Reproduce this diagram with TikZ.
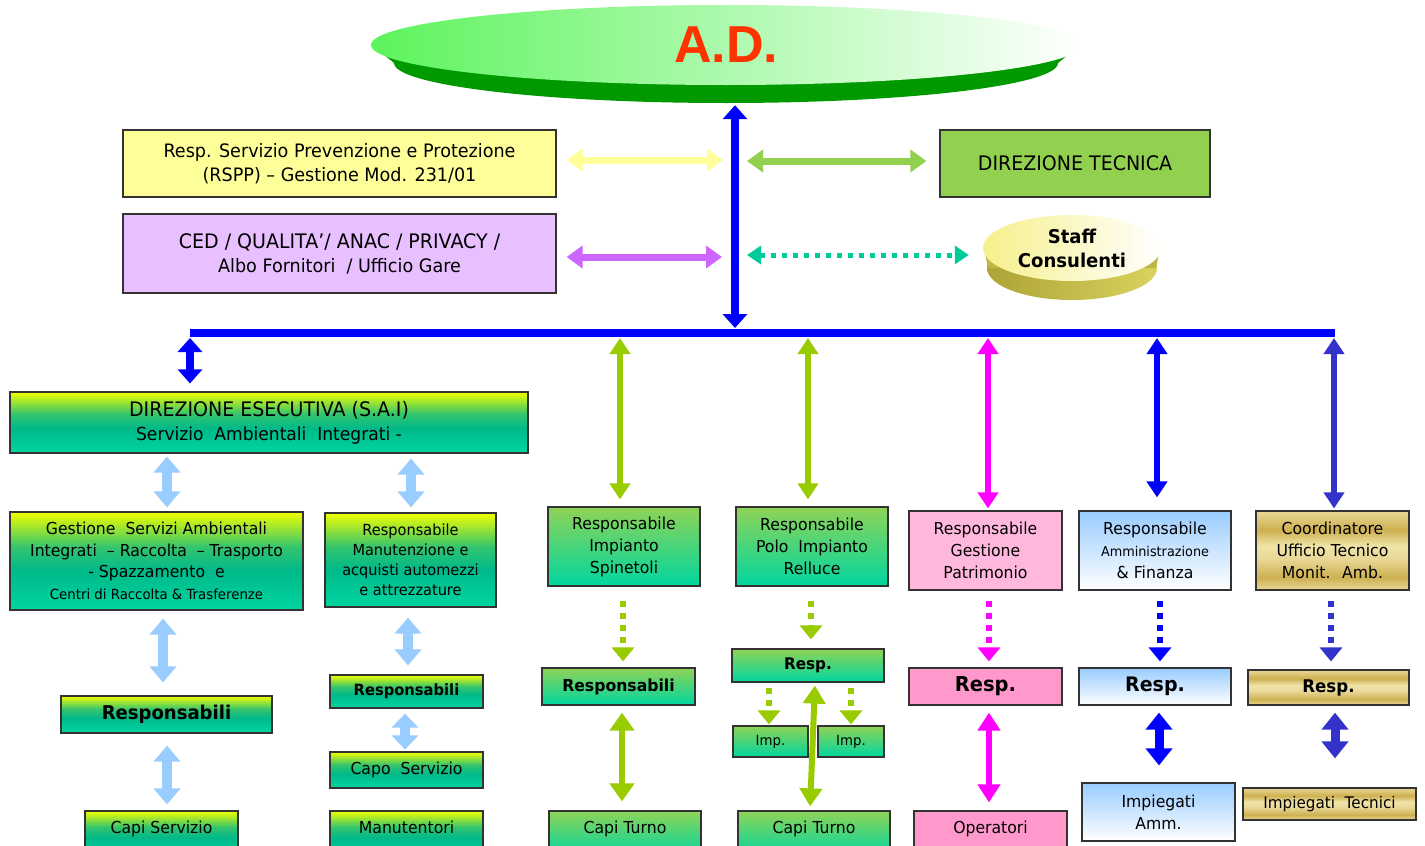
\documentclass[tikz,border=0pt]{standalone}
\usepackage{fontspec}
\setmainfont{DejaVu Sans}[FakeStretch=0.95]
\newfontfamily\adfont{Liberation Sans}
\usetikzlibrary{arrows.meta,shapes.geometric}
\definecolor{myblue}{HTML}{0000FF}
\definecolor{ltyel}{HTML}{FFFF99}
\definecolor{violA}{HTML}{CC66FF}
\definecolor{grA}{HTML}{92D050}
\definecolor{tealA}{HTML}{00CC99}
\definecolor{ygA}{HTML}{99CC00}
\definecolor{magA}{HTML}{FF00FF}
\definecolor{indig}{HTML}{3333CC}
\definecolor{ltblue}{HTML}{99CCFF}
\definecolor{cedfill}{HTML}{E8C0FF}
\definecolor{pinkA}{HTML}{FFB7DD}
\definecolor{pinkB}{HTML}{FF99CC}
\definecolor{adred}{HTML}{FF3300}
\definecolor{adgreen}{HTML}{009900}
\definecolor{adlight}{HTML}{5CF45C}
\definecolor{admid}{HTML}{CFF8CF}
\definecolor{olA}{HTML}{ADA336}
\definecolor{olB}{HTML}{D9D35E}
\definecolor{stA}{HTML}{F6F08C}
\definecolor{edge}{HTML}{333333}
\definecolor{ygB}{HTML}{00D6A0}
\definecolor{ygM}{HTML}{00B98A}
\definecolor{ygL}{HTML}{33C46E}
\definecolor{ygT}{HTML}{F2FF00}
\definecolor{grT}{HTML}{8FD356}
\definecolor{gdA}{HTML}{E9D898}
\definecolor{gdB}{HTML}{CDB050}
\definecolor{gdC}{HTML}{F0E4A8}
\pgfdeclareverticalshading{ygsh}{100bp}{color(0bp)=(ygB); color(25bp)=(ygB); color(45bp)=(ygM); color(57bp)=(ygL); color(75bp)=(ygT); color(100bp)=(ygT)}
\pgfdeclareverticalshading{grsh}{100bp}{color(0bp)=(ygB); color(25bp)=(ygB); color(75bp)=(grT); color(100bp)=(grT)}
\pgfdeclareverticalshading{lbsh}{100bp}{color(0bp)=(white); color(25bp)=(white); color(75bp)=(ltblue); color(100bp)=(ltblue)}
\pgfdeclareverticalshading{gdsh}{100bp}{color(0bp)=(gdA); color(25bp)=(gdA); color(33bp)=(gdB); color(45bp)=(gdA); color(53bp)=(gdC); color(63bp)=(gdB); color(75bp)=(gdA); color(100bp)=(gdA)}
\begin{document}
\begin{tikzpicture}[x=1pt,y=-1pt,
  fs/.style 2 args={font=\fontsize{#1}{#2}\selectfont},
  box/.style={draw=edge, line width=1.2pt, inner sep=0pt, align=center, text=black},
  ygbox/.style={box, shade, shading=ygsh},
  grbox/.style={box, shade, shading=grsh},
  lbbox/.style={box, shade, shading=lbsh},
  gdbox/.style={box, shade, shading=gdsh},
  pkbox/.style={box, fill=pinkA},
  pkbox2/.style={box, fill=pinkB},
  dbl/.style n args={4}{draw=#1, line width=#2, >={Triangle[width=#3,length=#4]}, <->},
  dotarr/.style n args={2}{draw=#1, line width=6pt, dash pattern=on 6pt off 6pt, >={Triangle[width=#2,length=14pt]}, ->},
  dotdbl/.style={draw=tealA, line width=5pt, dash pattern=on 5pt off 6pt, >={Triangle[width=18pt,length=14pt]}, <->}
]
\useasboundingbox (0,0) rectangle (1425,846);
\fill[white] (0,0) rectangle (1425,846);

% ---- A.D. disc
\node[ellipse, fill=adgreen, inner sep=0pt, minimum width=664pt, minimum height=80pt] (ADrim) at (726,63) {};
\fill[adgreen] (372,45) -- (1080,45) -- (1058,63) -- (394,63) -- cycle;
\node[ellipse, inner sep=0pt, minimum width=710pt, minimum height=80pt,
      left color=adlight, middle color=admid, right color=white,
      text=adred, font=\adfont\bfseries\fontsize{52}{52}\selectfont] (AD) at (726,45) {A.D.};

% ---- Staff disc
\node[ellipse, inner sep=0pt, minimum width=170pt, minimum height=64pt, left color=olA, right color=olB] (Strim) at (1072,268) {};
\fill[olA!60!olB] (984,248) -- (1160,248) -- (1156,268) -- (988,268) -- cycle;
\node[ellipse, inner sep=0pt, minimum width=178pt, minimum height=66pt, left color=stA, right color=white,
      align=center, font=\bfseries\fontsize{19}{24}\selectfont] (Staff) at (1072,248) {Staff\\Consulenti};

% ---- upper boxes
\node[box, fill=ltyel, minimum width=433pt, minimum height=67pt, fs={18.5}{24}] (RSPP) at (339.5,163.5)
  {Resp. Servizio Prevenzione e Protezione\\(RSPP) – Gestione Mod. 231/01};
\node[box, fill=cedfill, minimum width=433pt, minimum height=79pt, fs={18.5}{24}] (CED) at (339.5,253.5)
  {{\fontsize{20}{24}\selectfont CED / QUALITA’/ ANAC / PRIVACY /}\\Albo Fornitori \ / Ufficio Gare};
\node[box, fill=grA, minimum width=270pt, minimum height=67pt, fs={20}{24}] (DT) at (1075,163.5) {DIREZIONE TECNICA};

% ---- bus
\coordinate (busL) at (190,333);
\coordinate (busR) at (1335,333);
\draw[myblue, line width=8pt] (busL) -- (busR);

% ---- left branch
\node[ygbox, minimum width=518pt, minimum height=61pt, fs={18}{24}] (DE) at (269,422.5)
  {{\fontsize{20}{24}\selectfont DIREZIONE ESECUTIVA (S.A.I)}\\Servizio \ Ambientali \ Integrati -};
\node[ygbox, minimum width=293pt, minimum height=98pt, fs={16.5}{21.5}] (Gest) at (156.5,561)
  {Gestione \ Servizi Ambientali\\Integrati \ – Raccolta \ – Trasporto\\- Spazzamento \ e\\{\fontsize{14}{20}\selectfont Centri di Raccolta \& Trasferenze}};
\node[ygbox, minimum width=171pt, minimum height=94pt, fs={15.3}{20}] (Manut) at (410.5,560)
  {Responsabile\\Manutenzione e\\acquisti automezzi\\e attrezzature};
\node[ygbox, minimum width=211pt, minimum height=37pt, font=\bfseries\fontsize{19}{22}\selectfont] (RespL) at (166.5,714.5) {Responsabili};
\node[ygbox, minimum width=153pt, minimum height=33pt, font=\bfseries\fontsize{15.5}{20}\selectfont] (RespM) at (406.5,691.5) {Responsabili};
\node[ygbox, minimum width=153pt, minimum height=36pt, fs={16.5}{20}] (CapoS) at (406.5,770) {Capo \ Servizio};
\node[ygbox, minimum width=153pt, minimum height=45pt, fs={16.5}{20}, text depth=12pt] (CapiS) at (161.5,833.5) {Capi Servizio};
\node[ygbox, minimum width=153pt, minimum height=45pt, fs={16.5}{20}, text depth=12pt] (Manu) at (406.5,833.5) {Manutentori};

% ---- Spinetoli
\node[grbox, minimum width=152pt, minimum height=79pt, fs={16.5}{22}] (Spin) at (624,546.5) {Responsabile\\Impianto\\Spinetoli};
\node[grbox, minimum width=153pt, minimum height=37pt, font=\bfseries\fontsize{16.5}{20}\selectfont] (RespS) at (618.5,686.5) {Responsabili};
\node[grbox, minimum width=152pt, minimum height=45pt, fs={16.5}{20}, text depth=12pt] (CapiT1) at (625,833.5) {Capi Turno};

% ---- Relluce
\node[grbox, minimum width=152pt, minimum height=79pt, fs={16.5}{22}] (Rell) at (812,546.5) {Responsabile\\Polo \ Impianto\\Relluce};
\node[grbox, minimum width=152pt, minimum height=33pt, font=\bfseries\fontsize{16}{20}\selectfont] (RespR) at (808,665.5) {Resp.};
\node[grbox, minimum width=75pt, minimum height=31pt, fs={14}{18}] (Imp1) at (770.5,741.5) {Imp.};
\node[grbox, minimum width=66pt, minimum height=31pt, fs={14}{18}] (Imp2) at (851,741.5) {Imp.};
\node[grbox, minimum width=152pt, minimum height=45pt, fs={16.5}{20}, text depth=12pt] (CapiT2) at (814,833.5) {Capi Turno};

% ---- Patrimonio
\node[pkbox, minimum width=153pt, minimum height=79pt, fs={16.5}{22}] (Patr) at (985.5,550.5) {Responsabile\\Gestione\\Patrimonio};
\node[pkbox2, minimum width=153pt, minimum height=37pt, font=\bfseries\fontsize{20.5}{22}\selectfont] (RespP) at (985.5,686.5) {Resp.};
\node[pkbox2, minimum width=153pt, minimum height=45pt, fs={16.5}{20}, text depth=12pt] (Oper) at (990.5,833.5) {Operatori};

% ---- Amministrazione
\node[lbbox, minimum width=152pt, minimum height=79pt, fs={16.5}{22}] (Amm) at (1155,550.5)
  {Responsabile\\{\fontsize{13.5}{22}\selectfont Amministrazione}\\\& Finanza};
\node[lbbox, minimum width=152pt, minimum height=37pt, font=\bfseries\fontsize{20}{22}\selectfont] (RespA) at (1155,686.5) {Resp.};
\node[lbbox, minimum width=153pt, minimum height=58pt, fs={16.5}{22}] (ImpA) at (1158.5,812) {Impiegati\\Amm.};

% ---- Coordinatore
\node[gdbox, minimum width=153pt, minimum height=79pt, fs={16.5}{22}] (Coord) at (1332.5,550.5) {Coordinatore\\Ufficio Tecnico\\Monit. \ Amb.};
\node[gdbox, minimum width=161pt, minimum height=35pt, font=\bfseries\fontsize{17.5}{20}\selectfont] (RespC) at (1328.5,687.5) {Resp.};
\node[gdbox, minimum width=173pt, minimum height=32pt, fs={16}{20}] (ImpT) at (1329.5,804) {Impiegati \ Tecnici};

% ---- main vertical arrow and side arrows
\draw[dbl={myblue}{8pt}{24pt}{14pt}, shorten <=2pt, shorten >=5pt] (735,0 |- ADrim.south) -- (735,0 |- busL);
\coordinate (hY) at (723,160);
\coordinate (hV) at (722,257);
\coordinate (hG) at (747,161);
\coordinate (hT) at (747,255);
\draw[dbl={ltyel}{7pt}{22pt}{16pt}, shorten <=10pt] (RSPP.east |- hY) -- (hY);
\draw[dbl={violA}{7pt}{22pt}{16pt}, shorten <=10pt] (CED.east |- hV) -- (hV);
\draw[dbl={grA}{7pt}{22pt}{16pt}, shorten >=13pt] (hG) -- (DT.west |- hG);
\draw[dotdbl, shorten >=14pt] (hT) -- (Staff.west |- hT);

% ---- bus drops
\draw[dbl={myblue}{8pt}{24pt}{14pt}, shorten <=5pt, shorten >=8pt] (190,0 |- busL) -- (190,0 |- DE.north);
\draw[dbl={ygA}{6pt}{20pt}{16pt}, shorten <=5pt, shorten >=7pt] (620,0 |- busL) -- (620,0 |- Spin.north);
\draw[dbl={ygA}{6pt}{20pt}{16pt}, shorten <=5pt, shorten >=7pt] (808,0 |- busL) -- (808,0 |- Rell.north);
\draw[dbl={magA}{6pt}{20pt}{16pt}, shorten <=5pt, shorten >=2pt] (988,0 |- busL) -- (988,0 |- Patr.north);
\draw[dbl={myblue}{6pt}{20pt}{16pt}, shorten <=5pt, shorten >=13pt] (1157,0 |- busL) -- (1157,0 |- Amm.north);
\draw[dbl={indig}{6pt}{20pt}{16pt}, shorten <=5pt, shorten >=2pt] (1334,0 |- busL) -- (1334,0 |- Coord.north);

% ---- light blue arrows
\draw[dbl={ltblue}{10pt}{26pt}{16pt}, shorten <=3pt, shorten >=4pt] (167,0 |- DE.south) -- (167,0 |- Gest.north);
\draw[dbl={ltblue}{10pt}{26pt}{16pt}, shorten <=5pt, shorten >=5pt] (411,0 |- DE.south) -- (411,0 |- Manut.north);
\draw[dbl={ltblue}{10pt}{26pt}{16pt}, shorten <=8pt, shorten >=13pt] (163,0 |- Gest.south) -- (163,0 |- RespL.north);
\draw[dbl={ltblue}{10pt}{26pt}{16pt}, shorten <=10pt, shorten >=9pt] (408,0 |- Manut.south) -- (408,0 |- RespM.north);
\draw[dbl={ltblue}{10pt}{26pt}{16pt}, shorten <=12pt, shorten >=6pt] (167,0 |- RespL.south) -- (167,0 |- CapiS.north);
\draw[dbl={ltblue}{10pt}{26pt}{14pt}, shorten <=5pt, shorten >=2pt] (405,0 |- RespM.south) -- (405,0 |- CapoS.north);

% ---- dotted arrows
\draw[dotarr={ygA}{22pt}, shorten <=14pt, shorten >=6pt] (623,0 |- Spin.south) -- (623,0 |- RespS.north);
\draw[dotarr={ygA}{22pt}, shorten <=14pt, shorten >=9pt] (811,0 |- Rell.south) -- (811,0 |- RespR.north);
\draw[dotarr={ygA}{22pt}, shorten <=5pt, shorten >=1pt] (769,0 |- RespR.south) -- (769,0 |- Imp1.north);
\draw[dotarr={ygA}{22pt}, shorten <=5pt, shorten >=1pt] (851,0 |- RespR.south) -- (851,0 |- Imp2.north);
\draw[dotarr={magA}{22pt}, shorten <=10pt, shorten >=6pt] (989,0 |- Patr.south) -- (989,0 |- RespP.north);
\draw[dotarr={myblue}{22pt}, shorten <=10pt, shorten >=6pt] (1160,0 |- Amm.south) -- (1160,0 |- RespA.north);
\draw[dotarr={indig}{22pt}, shorten <=10pt, shorten >=8pt] (1331,0 |- Coord.south) -- (1331,0 |- RespC.north);

% ---- lower double arrows
\draw[dbl={ygA}{6pt}{24pt}{18pt}, shorten <=7pt, shorten >=9pt] (622,0 |- RespS.south) -- (622,0 |- CapiT1.north);
\draw[dbl={ygA}{6pt}{22pt}{18pt}, shorten <=3pt, shorten >=4pt] (815,0 |- RespR.south) -- (810,0 |- CapiT2.north);
\draw[dbl={magA}{6pt}{22pt}{18pt}, shorten <=7pt, shorten >=8pt] (989,0 |- RespP.south) -- (989,0 |- Oper.north);
\draw[dbl={myblue}{9pt}{26pt}{17pt}, shorten <=7pt, shorten >=17pt] (1159,0 |- RespA.south) -- (1159,0 |- ImpA.north);
\draw[dbl={indig}{9pt}{26pt}{17pt}, shorten <=7pt, shorten >=29pt] (1335,0 |- RespC.south) -- (1335,0 |- ImpT.north);
\end{tikzpicture}
\end{document}
